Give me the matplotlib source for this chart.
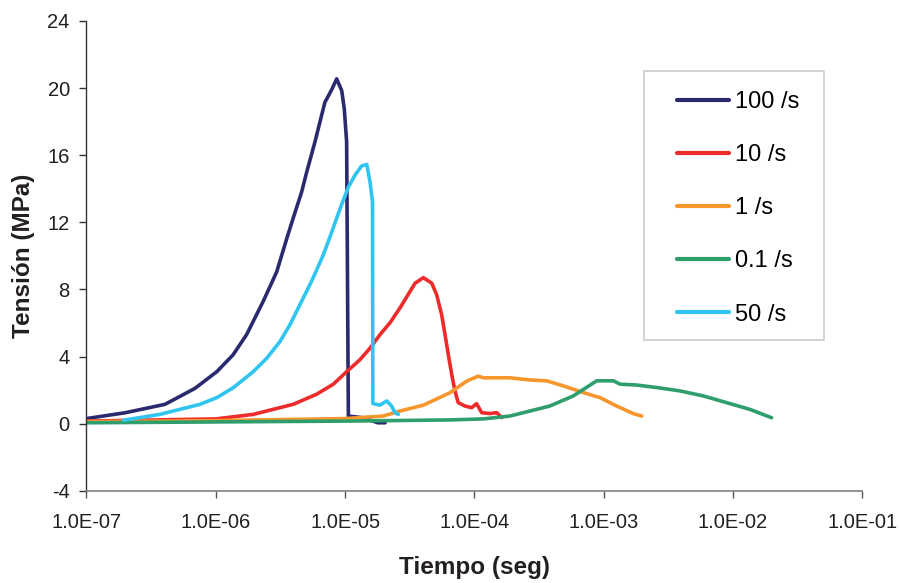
import matplotlib
matplotlib.use("Agg")
import matplotlib.pyplot as plt
from matplotlib.patches import Rectangle
import numpy as np

plt.rcParams['font.family'] = ['Liberation Sans', 'DejaVu Sans']
plt.rcParams['axes.unicode_minus'] = False

# curvas tension-tiempo para cada velocidad de deformacion
t_100 = [1.0e-7, 2.0e-7, 4.05e-7, 6.9e-7, 1.02e-6, 1.36e-6, 1.73e-6, 2.33e-6, 2.96e-6,
         3.53e-6, 3.95e-6, 4.61e-6, 5.05e-6, 5.85e-6, 6.4e-6, 6.98e-6, 7.87e-6, 8.61e-6,
         9.42e-6, 9.86e-6, 1.028e-5, 1.06e-5, 1.37e-5, 1.79e-5, 2.04e-5]
s_100 = [0.3, 0.65, 1.15, 2.1, 3.1, 4.1, 5.3, 7.3, 9.05,
         11.0, 12.2, 13.8, 15.0, 16.8, 18.0, 19.15, 19.9, 20.55,
         19.85, 18.75, 16.8, 0.45, 0.35, 0.05, 0.05]

t_10 = [1.0e-7, 1.0e-6, 1.95e-6, 3.97e-6, 6.02e-6, 8.11e-6, 1.03e-5, 1.30e-5, 1.56e-5,
        1.86e-5, 2.22e-5, 2.66e-5, 3.48e-5, 4.03e-5, 4.68e-5, 5.11e-5, 5.58e-5, 5.93e-5,
        6.29e-5, 6.68e-5, 7.08e-5, 7.50e-5, 8.45e-5, 9.53e-5, 1.04e-4, 1.14e-4, 1.32e-4,
        1.49e-4, 1.63e-4]
s_10 = [0.15, 0.28, 0.55, 1.15, 1.75, 2.35, 3.1, 3.8, 4.5,
        5.3, 6.0, 6.9, 8.37, 8.7, 8.37, 7.68, 6.5, 5.3,
        4.1, 2.93, 1.94, 1.25, 1.05, 0.95, 1.19, 0.65, 0.6,
        0.65, 0.36]

t_1 = [1.0e-7, 1.0e-6, 1.0e-5, 1.97e-5, 2.66e-5, 4.03e-5, 6.48e-5, 8.71e-5, 1.07e-4,
       1.17e-4, 1.88e-4, 2.69e-4, 3.62e-4, 4.87e-4, 6.95e-4, 9.36e-4, 1.26e-3, 1.69e-3,
       1.97e-3]
s_1 = [0.12, 0.18, 0.3, 0.45, 0.75, 1.1, 1.84, 2.53, 2.83,
       2.73, 2.73, 2.6, 2.55, 2.25, 1.85, 1.55, 1.05, 0.6,
       0.45]

t_01 = [1.0e-7, 1.0e-5, 6.48e-5, 1.17e-4, 1.88e-4, 2.69e-4, 3.84e-4, 5.82e-4, 8.83e-4,
        1.19e-3, 1.34e-3, 1.80e-3, 2.57e-3, 3.89e-3, 5.89e-3, 8.93e-3, 1.35e-2, 1.99e-2]
s_01 = [0.05, 0.15, 0.22, 0.28, 0.45, 0.75, 1.05, 1.65, 2.55,
        2.55, 2.35, 2.3, 2.15, 1.95, 1.65, 1.25, 0.85, 0.35]

t_50 = [1.93e-7, 3.7e-7, 7.55e-7, 1.02e-6, 1.37e-6, 1.95e-6, 2.48e-6, 3.14e-6, 3.75e-6,
        4.48e-6, 5.52e-6, 6.78e-6, 7.87e-6, 9.13e-6, 1.06e-5, 1.19e-5, 1.34e-5, 1.47e-5,
        1.56e-5, 1.63e-5, 1.64e-5, 1.86e-5, 2.10e-5, 2.29e-5, 2.43e-5, 2.58e-5]
s_50 = [0.2, 0.55, 1.15, 1.55, 2.15, 3.1, 3.9, 4.9, 5.9,
        7.1, 8.5, 10.05, 11.4, 12.8, 14.1, 14.8, 15.35, 15.45,
        14.4, 13.2, 1.2, 1.1, 1.35, 1.05, 0.65, 0.55]

etiquetas = ['100 /s', '10 /s', '1 /s', '0.1 /s', '50 /s']
colores = ['#2B2A6E', '#EE2B2B', '#F7962D', '#2E9E6C', '#30C4F0']
series = [(t_100, s_100), (t_10, s_10), (t_1, s_1), (t_01, s_01), (t_50, s_50)]

x_ticks = [1e-7, 1e-6, 1e-5, 1e-4, 1e-3, 1e-2, 1e-1]
x_ticklabels = ['1.0E-07', '1.0E-06', '1.0E-05', '1.0E-04', '1.0E-03', '1.0E-02', '1.0E-01']
y_ticks = [-4, 0, 4, 8, 12, 16, 20, 24]

fig = plt.figure(figsize=(9.01, 5.83), dpi=100)
ax = fig.add_axes([0.096, 0.1583, 0.861, 0.8057])

for (t, s), lab, c in zip(series, etiquetas, colores):
    ax.plot(t, s, color=c, lw=2.6, label=lab, solid_capstyle='round', solid_joinstyle='round')

ax.set_xscale('log')
ax.set_xlim(1e-7, 1e-1)
ax.set_ylim(-4, 24)
ax.set_xticks(x_ticks)
ax.set_xticklabels(x_ticklabels)
ax.xaxis.set_minor_locator(matplotlib.ticker.NullLocator())
ax.set_yticks(y_ticks)

ax.spines['top'].set_visible(False)
ax.spines['right'].set_visible(False)
ax.spines['left'].set_color('#333333')
ax.spines['bottom'].set_color('#808080')
ax.spines['left'].set_linewidth(1.0)
ax.spines['bottom'].set_linewidth(1.2)

ax.tick_params(axis='y', direction='out', length=5, width=1, color='#333333',
               labelsize=14.5, labelcolor='#231F20', pad=7)
ax.tick_params(axis='x', direction='out', length=5, width=1, color='#555555',
               labelsize=14.5, labelcolor='#231F20', pad=11)

ax.set_xlabel('Tiempo (seg)', fontsize=17.5, fontweight='bold', color='#231F20')
ax.set_ylabel('Tensión (MPa)', fontsize=17.5, fontweight='bold', color='#231F20')
ax.xaxis.set_label_coords(0.5, -0.14)
ax.yaxis.set_label_coords(-0.066, 0.5)

# caja de la leyenda dibujada aparte para controlar los margenes
ax.add_patch(Rectangle((0.7186, 0.3213), 0.232, 0.5723, transform=ax.transAxes,
                       facecolor='white', edgecolor='#CCCCCC', lw=1.2, zorder=5,
                       clip_on=False))
leg = ax.legend(loc='upper left', bbox_to_anchor=(0.7612, 0.851), fontsize=17,
                frameon=False, handlelength=2.2, handletextpad=0.25, labelspacing=1.32,
                borderpad=0, borderaxespad=0)
leg.set_zorder(6)
for h in leg.get_lines():
    h.set_linewidth(3)

fig.savefig('out.png', dpi=100)
